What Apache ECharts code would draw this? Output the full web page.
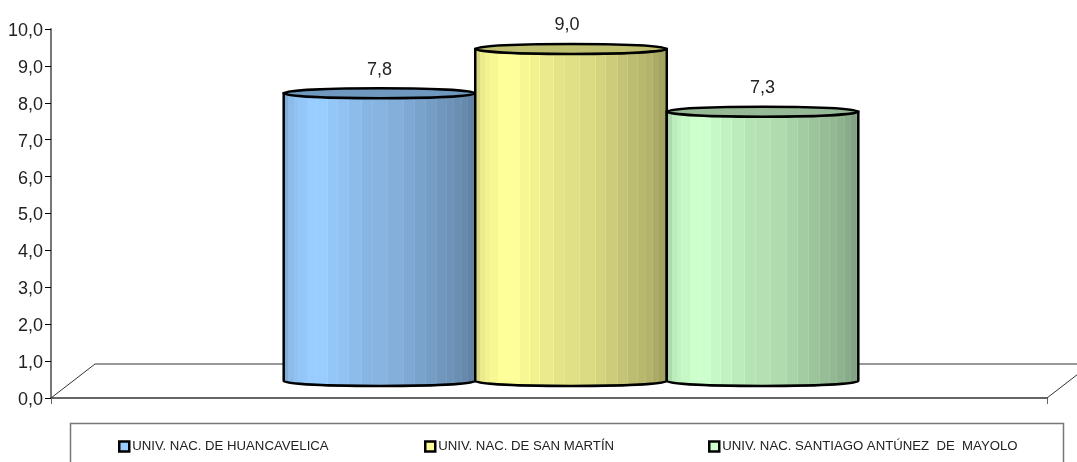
<!DOCTYPE html>
<html><head><meta charset="utf-8">
<style>html,body{margin:0;padding:0;background:#fff}#c{width:1077px;height:462px}</style>
<script src="https://cdn.jsdelivr.net/npm/echarts@6/dist/echarts.min.js"></script>
</head><body><div id="c"></div>
<script>
const categories = [''];
const seriesNames = ['UNIV. NAC. DE HUANCAVELICA', 'UNIV. NAC. DE SAN MARTÍN', 'UNIV. NAC. SANTIAGO ANTÚNEZ  DE  MAYOLO'];
const huancavelica = [7.8];
const sanMartin = [9.0];
const santiago = [7.3];
const yTicks = ['0,0','1,0','2,0','3,0','4,0','5,0','6,0','7,0','8,0','9,0','10,0'];
const baseColors = ['#99CCFF', '#FFFF99', '#CCFFCC'];
const capColors = ['#6F98BF', '#BFBF70', '#96BA96'];
const FONT = '"Liberation Sans",Arial,sans-serif';

const DX = 22, DY = -17, GAP = 2.2, RY = 5;
const labelNudge = [0, -4, 0];
const stripEnds = [.031,.057,.087,.131,.18,.235,.288,.342,.41,.468,.546,.628,.682,.74,.794,.846,.886,.923,.956,.988,1];
const stripShade = [.85,.92,.95,.97,1,1,.97,.95,.92,.89,.88,.86,.83,.80,.77,.74,.72,.70,.67,.64,.62];
function scale(hex, k){
  const n = parseInt(hex.slice(1),16);
  const f = s => Math.min(255,Math.round(((n>>s)&255)*k));
  return `rgb(${f(16)},${f(8)},${f(0)})`;
}
function stripStops(hex){
  const out = [];
  let start = 0;
  stripEnds.forEach((e,i)=>{
    const col = scale(hex, stripShade[i]);
    out.push({offset:start, color:col});
    const seamEnd = e-0.005;
    if(i<stripEnds.length-1 && i>1){
      out.push({offset:seamEnd, color:col});
      out.push({offset:seamEnd, color:scale(hex, stripShade[i]+.025)});
      out.push({offset:e, color:scale(hex, stripShade[i]+.025)});
    } else {
      out.push({offset:e, color:col});
    }
    start = e;
  });
  return out;
}
function cyl(idx){
  return function(params, api){
    const base = api.coord([api.value(0), 0]);
    const top = api.coord([api.value(0), api.value(1)]);
    const band = api.size([1,0])[0];
    const w = band/(3+GAP);
    const x0 = base[0] + DX + (idx-1.5)*w;
    const cx = x0 + w/2, yB = base[1]+DY, yT = top[1]+DY;
    const rx = w/2;
    const k = 0.5522847;
    const body = `M${x0} ${yT}L${x0} ${yB}C${x0} ${yB+RY*k} ${cx-rx*k} ${yB+RY} ${cx} ${yB+RY}C${cx+rx*k} ${yB+RY} ${x0+w} ${yB+RY*k} ${x0+w} ${yB}L${x0+w} ${yT}Z`;
    return {type:'group', children:[
      {type:'path', shape:{pathData:body}, style:{fill:{type:'linear',x:0,y:0,x2:1,y2:0,colorStops:stripStops(baseColors[idx])}, stroke:'#000', lineWidth:2.5}},
      {type:'ellipse', shape:{cx:cx, cy:yT, rx:rx, ry:RY}, style:{fill:capColors[idx], stroke:'#000', lineWidth:2.5}},
      {type:'text', x:cx+labelNudge[idx], y:yT-23.5, style:{text:String(api.value(1).toFixed(1)).replace('.',','), fill:'#222', font:'18px '+FONT, align:'center', verticalAlign:'middle'}}
    ]};
  };
}
const floorSeries = {
  type:'custom', silent:true, z:1, clip:false, legendHoverLink:false, data:[[0,0]],
  renderItem:function(params, api){
    const c = api.coord([0,0]), band = api.size([1,0])[0];
    const x1 = c[0]-band/2, x2 = c[0]+band/2, y = c[1];
    return {type:'polyline', shape:{points:[[x1,y],[x1+2*DX,y+2*DY],[x2+2*DX,y+2*DY],[x2,y]]}, style:{fill:null, stroke:'#333', lineWidth:1}};
  }
};
const mk = (name, vals, i) => ({
  type:'custom', name:name, z:3+i, clip:false,
  itemStyle:{color:baseColors[i]},
  data:vals.map((v,j)=>[j,v]), encode:{x:0,y:1}, renderItem:cyl(i)
});
const legendLefts = [118, 424, 708];
const chart = echarts.init(document.getElementById('c'), null, {renderer:'canvas'});
chart.setOption({
  animation:false,
  backgroundColor:'#fff',
  grid:{left:51, right:30, top:29, bottom:64},
  xAxis:{type:'category', data:categories, boundaryGap:true,
    axisLine:{lineStyle:{color:'#333',width:1.5}},
    axisTick:{show:true, alignWithLabel:false, length:6, lineStyle:{color:'#666',width:1}},
    axisLabel:{show:false}, splitLine:{show:false}},
  yAxis:{type:'value', min:0, max:10, interval:1,
    axisLine:{show:true, lineStyle:{color:'#777',width:2}},
    axisTick:{show:true, length:6, lineStyle:{color:'#000',width:1}},
    axisLabel:{formatter:(v)=>yTicks[Math.round(v)], color:'#222', fontFamily:FONT, fontSize:18, margin:8, verticalAlign:'top', lineHeight:4},
    splitLine:{show:false}},
  legend: seriesNames.map((n,i)=>({
    data:[{name:n, icon:'rect', itemStyle:{color:baseColors[i], borderColor:'#000', borderWidth:2.5}}],
    left:legendLefts[i], top:440, itemWidth:10, itemHeight:10, itemGap:0,
    selectedMode:false, textStyle:{fontFamily:FONT, fontSize:13.2, color:'#222', padding:[0,0,0,-2]}, padding:0
  })),
  graphic:[{type:'rect', silent:true, z:0, shape:{x:70.5,y:423.5,width:993,height:60}, style:{fill:'#fff', stroke:'#777', lineWidth:1.5}}],
  series:[floorSeries, mk(seriesNames[0],huancavelica,0), mk(seriesNames[1],sanMartin,1), mk(seriesNames[2],santiago,2)]
});
</script></body></html>
